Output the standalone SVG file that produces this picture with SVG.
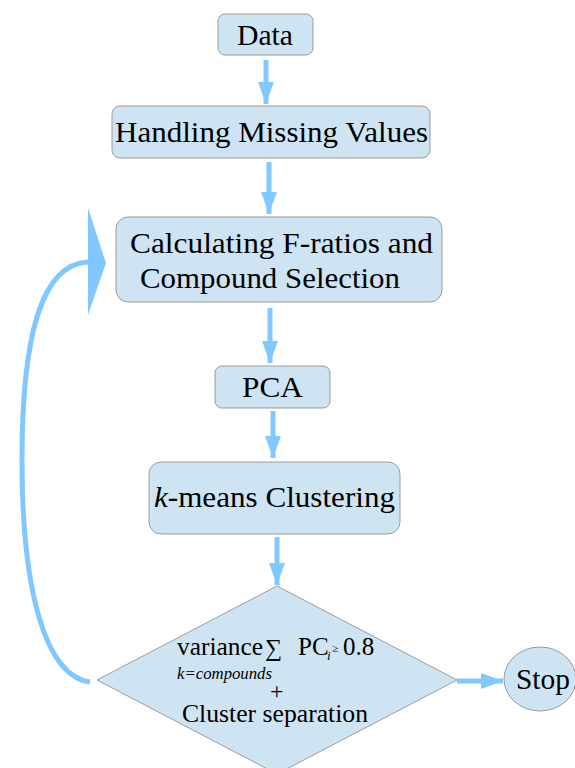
<svg xmlns="http://www.w3.org/2000/svg" width="575" height="768" viewBox="0 0 575 768">
<style>
.box{fill:#cfe4f3;stroke:#9a9a9a;stroke-width:1}
text{font-family:'Liberation Serif','Times New Roman','DejaVu Serif',serif;fill:#000}
.t{font-size:30px}
.s{font-size:25px}
.c{stroke:#80c8ff;stroke-width:5;fill:none}
.h{fill:#80c8ff;stroke:none}
</style>
<defs>
<marker id="ah" markerUnits="userSpaceOnUse" markerWidth="24" markerHeight="16" refX="22" refY="8" orient="auto">
<path d="M0,0 L22,8 L0,16 Z" class="h"/>
</marker>
</defs>
<rect width="575" height="768" fill="#ffffff"/>
<g id="connectors">
<line class="c" x1="266" y1="60" x2="266" y2="104" marker-end="url(#ah)"/>
<line class="c" x1="269" y1="162" x2="269" y2="214" marker-end="url(#ah)"/>
<line class="c" x1="270" y1="308" x2="270" y2="363" marker-end="url(#ah)"/>
<line class="c" x1="273" y1="411" x2="273" y2="458" marker-end="url(#ah)"/>
<line class="c" x1="277" y1="537" x2="277" y2="585" marker-end="url(#ah)"/>
<line class="c" x1="457" y1="681" x2="503" y2="681" marker-end="url(#ah)"/>
<path class="c" d="M90 682 C45 676 22 590 22 460 C22 340 40 264 88 262"/>
<path class="h" d="M88 208 L106 263 L88 315 Z"/>
</g>
<g id="data">
<rect class="box" x="218" y="14" width="95" height="41" rx="7"/>
<text class="t" x="237" y="45" textLength="56" lengthAdjust="spacingAndGlyphs">Data</text>
</g>
<g id="missing">
<rect class="box" x="112" y="106" width="318" height="52" rx="8"/>
<text class="t" x="115" y="142" textLength="313" lengthAdjust="spacingAndGlyphs">Handling Missing Values</text>
</g>
<g id="fratios">
<rect class="box" x="116" y="217" width="326" height="85" rx="12"/>
<text class="t" x="130" y="253" textLength="303" lengthAdjust="spacingAndGlyphs">Calculating F-ratios and</text>
<text class="t" x="140" y="288" textLength="260" lengthAdjust="spacingAndGlyphs">Compound Selection</text>
</g>
<g id="pca">
<rect class="box" x="215" y="366" width="115" height="42" rx="7"/>
<text class="t" x="242" y="397" textLength="61" lengthAdjust="spacingAndGlyphs">PCA</text>
</g>
<g id="kmeans">
<rect class="box" x="149" y="462" width="251" height="72" rx="12"/>
<text class="t" x="154" y="507" textLength="241" lengthAdjust="spacingAndGlyphs"><tspan font-style="italic">k</tspan>-means Clustering</text>
</g>
<g id="decision">
<path class="box" d="M277 586 L457 680 L277 774 L97 680 Z"/>
<text class="s"><tspan x="177" y="655" textLength="86" lengthAdjust="spacingAndGlyphs">variance</tspan><tspan x="265" y="656" font-size="24">∑</tspan><tspan x="298" y="655">PC</tspan><tspan x="327" y="660" font-size="13" font-style="italic">i</tspan><tspan x="332" y="652" font-size="11">≥</tspan><tspan x="343" y="655">0.8</tspan></text>
<text class="s"><tspan x="177" y="679" font-size="16" font-style="italic" textLength="95" lengthAdjust="spacingAndGlyphs">k=compounds</tspan><tspan x="270" y="699" font-size="24">+</tspan></text>
<text class="s" x="182" y="722" textLength="186" lengthAdjust="spacingAndGlyphs">Cluster separation</text>
</g>
<g id="stop">
<ellipse class="box" cx="540" cy="679" rx="36" ry="32"/>
<text class="t" x="516" y="689" textLength="54" lengthAdjust="spacingAndGlyphs">Stop</text>
</g>
</svg>
